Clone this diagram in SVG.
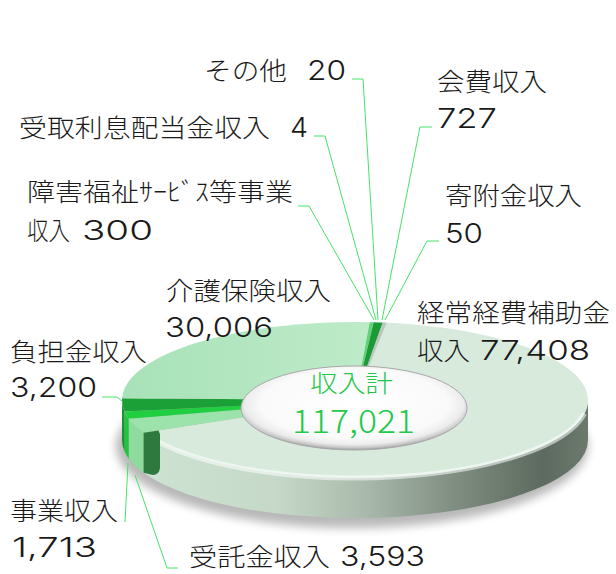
<svg xmlns="http://www.w3.org/2000/svg" width="616" height="574" viewBox="0 0 616 574">
<defs>
<style>
.lbl{font-family:"Noto Sans CJK JP","Noto Sans",sans-serif;font-size:25px;font-weight:300;fill:#1a1a1a}
.n{font-family:Inter,"Noto Sans",sans-serif;font-size:27px;font-weight:300}
.ctr{font-family:"Noto Sans CJK JP","Noto Sans",sans-serif;font-weight:300;fill:#22c84a}
.ld{fill:none;stroke:#44e466;stroke-width:1}
</style>
<linearGradient id="sideBig" gradientUnits="userSpaceOnUse" x1="143" y1="0" x2="588" y2="0">
<stop offset="0" stop-color="#cde3d1"/>
<stop offset="0.3" stop-color="#c6d9c8"/>
<stop offset="0.5" stop-color="#a9b9ab"/>
<stop offset="0.7" stop-color="#7f8e81"/>
<stop offset="0.9" stop-color="#5d6a5f"/>
<stop offset="1" stop-color="#6c7a6e"/>
</linearGradient>
<linearGradient id="kaigo" gradientUnits="userSpaceOnUse" x1="122" y1="0" x2="380" y2="0">
<stop offset="0" stop-color="#a8e2b8"/>
<stop offset="1" stop-color="#bfebc9"/>
</linearGradient>
<radialGradient id="holeG" cx="0.5" cy="0.45" r="0.55">
<stop offset="0" stop-color="#ffffff"/>
<stop offset="0.75" stop-color="#fafafa"/>
<stop offset="0.88" stop-color="#ececec"/>
<stop offset="0.95" stop-color="#c8c8c8"/>
<stop offset="1" stop-color="#9c9c9c"/>
</radialGradient>
<filter id="blur" x="-10%" y="-20%" width="120%" height="140%"><feGaussianBlur stdDeviation="5"/></filter>
</defs>

<rect width="616" height="574" fill="#ffffff"/>

<ellipse cx="352" cy="446" rx="236" ry="82" fill="#000" opacity="0.28" filter="url(#blur)"/>

<g id="slice-keijo">
<path d="M588,400 A233,78 0 0 1 143.58,432.80 L143.58,472.80 A233,78 0 0 0 588,440 Z" fill="url(#sideBig)"/>
<path d="M355,400 L383.40,322.58 A233,78 0 1 1 143.58,432.80 Z" fill="#d8eadc"/>
<path d="M355,400 L383.40,322.58 A233,78 0 0 1 386.62,322.72 Z" fill="#bcc6be"/>
<path d="M584.46,413.54 A233,78 0 0 1 157.41,441.33" fill="none" stroke="#ffffff" stroke-opacity="0.55" stroke-width="5"/>
</g>

<g id="slice-jutaku">
<path d="M143.58,432.80 A233,78 0 0 1 128.75,418.63 L128.75,458.63 A233,78 0 0 0 143.58,472.80 Z" fill="#8ddb9d"/>
<path d="M355,400 L143.58,432.80 A233,78 0 0 1 128.75,418.63 Z" fill="#9be3aa"/>
</g>

<g id="slice-jigyo">
<path d="M128.75,418.63 A233,78 0 0 1 124.59,411.60 L124.59,451.60 A233,78 0 0 0 128.75,458.63 Z" fill="#22c43e"/>
<path d="M355,400 L128.75,418.63 A233,78 0 0 1 124.59,411.60 Z" fill="#1fcf3f"/>
</g>

<g id="slice-futan">
<path d="M124.59,411.60 A233,78 0 0 1 122,400 L122,440 A233,78 0 0 0 124.59,451.60 Z" fill="#1a9433"/>
<path d="M355,400 L124.59,411.60 A233,78 0 0 1 122.06,398.23 Z" fill="#1ba037"/>
</g>

<g id="slice-kaigo">
<path d="M355,400 L122.06,398.23 A233,78 0 0 1 369.67,322.15 Z" fill="url(#kaigo)"/>
</g>

<g id="slice-shogai">
<path d="M355,400 L369.67,322.15 A233,78 0 0 1 373.40,322.24 Z" fill="#5fd378"/>
</g>
<g id="slice-rishi">
<path d="M355,400 L373.40,322.24 A233,78 0 0 1 373.47,322.24 Z" fill="#2aa846"/>
</g>
<g id="slice-sonota">
<path d="M355,400 L373.47,322.24 A233,78 0 0 1 373.69,322.25 Z" fill="#2aa846"/>
</g>
<g id="slice-kaihi">
<path d="M355,400 L373.69,322.25 A233,78 0 0 1 382.75,322.56 Z" fill="#1c9a36"/>
</g>
<g id="slice-kifu">
<path d="M355,400 L382.75,322.56 A233,78 0 0 1 383.40,322.58 Z" fill="#9fb8a4"/>
</g>

<g id="cut-face">
<path d="M143.58,432.80 L158.5,430.5 L160,434 L160,468 Q159,475 153,475 L143.58,472.80 Z" fill="#2e7a3e"/>
</g>

<g id="total">
<ellipse cx="354" cy="408" rx="113" ry="42" fill="url(#holeG)" stroke="#a9a9a9" stroke-width="1"/>
<text class="ctr" x="310" y="392" font-size="24" textLength="83" lengthAdjust="spacingAndGlyphs">収入計</text>
<text class="ctr n" x="292" y="433" textLength="123" lengthAdjust="spacingAndGlyphs" style="font-size:32px">117,021</text>
</g>

<g id="connectors">
<path class="ld" d="M352,79 H363 L378,320"/>
<path class="ld" d="M314,136 H325 L376,320"/>
<path class="ld" d="M298,206 H309 L374,320"/>
<path class="ld" d="M432,127 H420 L382,320"/>
<path class="ld" d="M439,241 H427 L385,320"/>
<path class="ld" d="M102,397 H117 L123,402"/>
<path class="ld" d="M125,522 L128,463"/>
<path class="ld" d="M178,568 H167 L135,475"/>
</g>

<g id="labels">
<g id="label-sonota"><text class="lbl" x="204" y="80"><tspan textLength="83" lengthAdjust="spacingAndGlyphs">その他</tspan> <tspan class="n" x="307" textLength="39" lengthAdjust="spacingAndGlyphs">20</tspan></text></g>
<g id="label-rishi"><text class="lbl" x="19" y="137"><tspan textLength="251" lengthAdjust="spacingAndGlyphs">受取利息配当金収入</tspan> <tspan class="n" x="290" textLength="18" lengthAdjust="spacingAndGlyphs">4</tspan></text></g>
<g id="label-shogai">
<text class="lbl" x="27" y="201" textLength="266" lengthAdjust="spacingAndGlyphs">障害福祉ｻｰﾋﾞｽ等事業</text>
<text class="lbl" x="27" y="240"><tspan textLength="43" lengthAdjust="spacingAndGlyphs">収入</tspan> <tspan class="n" x="82" textLength="71" lengthAdjust="spacingAndGlyphs">300</tspan></text>
</g>
<g id="label-kaihi">
<text class="lbl" x="437" y="91" textLength="110" lengthAdjust="spacingAndGlyphs">会費収入</text>
<text class="lbl n" x="437" y="128" textLength="60" lengthAdjust="spacingAndGlyphs">727</text>
</g>
<g id="label-kifu">
<text class="lbl" x="445" y="205" textLength="137" lengthAdjust="spacingAndGlyphs">寄附金収入</text>
<text class="lbl n" x="445" y="243" textLength="38" lengthAdjust="spacingAndGlyphs">50</text>
</g>
<g id="label-kaigo">
<text class="lbl" x="166" y="300" textLength="165" lengthAdjust="spacingAndGlyphs">介護保険収入</text>
<text class="lbl n" x="165" y="337" textLength="108" lengthAdjust="spacingAndGlyphs">30,006</text>
</g>
<g id="label-futan">
<text class="lbl" x="10" y="361" textLength="137" lengthAdjust="spacingAndGlyphs">負担金収入</text>
<text class="lbl n" x="10" y="397" textLength="87" lengthAdjust="spacingAndGlyphs">3,200</text>
</g>
<g id="label-jigyo">
<text class="lbl" x="10" y="520" textLength="108" lengthAdjust="spacingAndGlyphs">事業収入</text>
<text class="lbl n" x="12" y="557" textLength="85" lengthAdjust="spacingAndGlyphs">1,713</text>
</g>
<g id="label-jutaku"><text class="lbl" x="189" y="566"><tspan textLength="141" lengthAdjust="spacingAndGlyphs">受託金収入</tspan> <tspan class="n" x="340" textLength="85" lengthAdjust="spacingAndGlyphs">3,593</tspan></text></g>
<g id="label-keijo">
<text class="lbl" x="417" y="322" textLength="193" lengthAdjust="spacingAndGlyphs">経常経費補助金</text>
<text class="lbl" x="417" y="360"><tspan textLength="53" lengthAdjust="spacingAndGlyphs">収入</tspan> <tspan class="n" x="480" textLength="110" lengthAdjust="spacingAndGlyphs">77,408</tspan></text>
</g>
</g>
</svg>
